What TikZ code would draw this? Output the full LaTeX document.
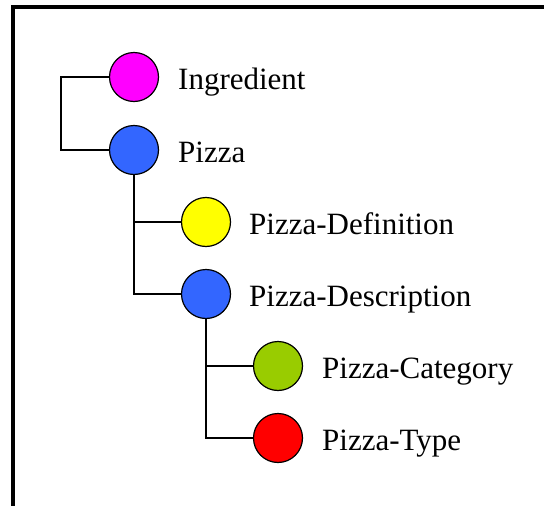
\documentclass[tikz,border=0pt]{standalone}
\usepackage{fontspec}
\setmainfont{Liberation Serif}
\definecolor{cmag}{HTML}{FF00FF}
\definecolor{cblue}{HTML}{3366FF}
\definecolor{cyel}{HTML}{FFFF00}
\definecolor{cgrn}{HTML}{99CC00}
\definecolor{cred}{HTML}{FF0000}
\begin{document}
\begin{tikzpicture}[x=1pt,y=-1pt,
  ball/.style={circle, draw=black, line width=1.2pt, minimum size=49pt, inner sep=0pt},
  lbl/.style={anchor=base west, font=\fontsize{31}{31}\selectfont, inner sep=0pt},
  conn/.style={draw=black, line width=1.3pt}]
\useasboundingbox (0,0) rectangle (544,506);
% frame
\draw[line width=4pt, line join=miter] (544,7) -- (13,7) -- (13,506);
% nodes
\node[ball, fill=cmag]  (ing)  at (134,77)  {};
\node[ball, fill=cblue] (piz)  at (134,150) {};
\node[ball, fill=cyel]  (def)  at (206,222) {};
\node[ball, fill=cblue] (desc) at (206,294) {};
\node[ball, fill=cgrn]  (cat)  at (278,366) {};
\node[ball, fill=cred]  (typ)  at (278,438) {};
% labels
\node[lbl] (ingt)  at (178,89)  {Ingredient};
\node[lbl] (pizt)  at (178,162) {Pizza};
\node[lbl] (deft)  at (249,234) {Pizza-Definition};
\node[lbl] (desct) at (249,306) {Pizza-Description};
\node[lbl] (catt)  at (322,378) {Pizza-Category};
\node[lbl] (typt)  at (322,450) {Pizza-Type};
% connectors
\coordinate (b1) at (61,77);
\draw[conn] (ing.west) -- (b1) |- (piz.west);
\draw[conn] (piz.south) |- (def.west);
\draw[conn] (piz.south) |- (desc.west);
\draw[conn] (desc.south) |- (cat.west);
\draw[conn] (desc.south) |- (typ.west);
\end{tikzpicture}
\end{document}
